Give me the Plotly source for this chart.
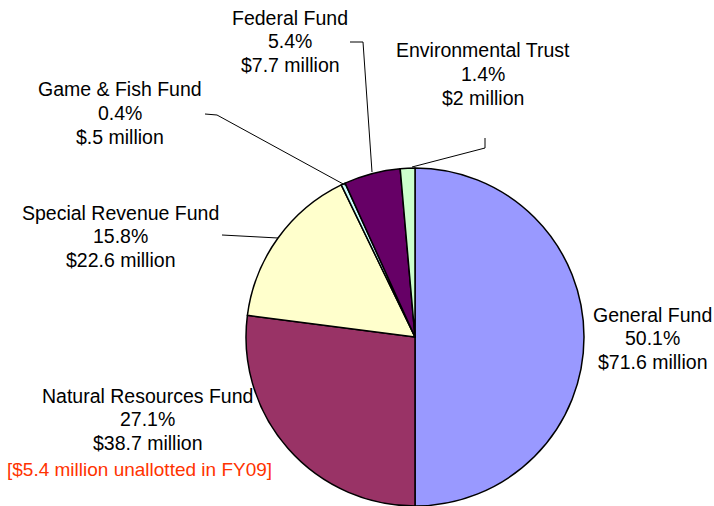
import plotly.graph_objects as go

# fund shares (percent of total) and dollar amounts, clockwise from 12 o'clock
funds = ["General Fund", "Natural Resources Fund", "Special Revenue Fund",
         "Game & Fish Fund", "Federal Fund", "Environmental Trust"]
shares = [50.1, 27.1, 15.8, 0.4, 5.4, 1.4]
amounts = ["$71.6 million", "$38.7 million", "$22.6 million",
           "$.5 million", "$7.7 million", "$2 million"]
colors = ["#9999FF", "#993366", "#FFFFCC", "#CCFFFF", "#660066", "#CCFFCC"]

W, H = 714, 506


def px(x, y):
    """pixel position -> paper coords"""
    return x / W, 1 - y / H


fig = go.Figure(go.Pie(
    labels=funds, values=shares, sort=False, direction="clockwise",
    rotation=0, textinfo="none", hoverinfo="label+percent",
    marker=dict(colors=colors, line=dict(color="black", width=1.5)),
    domain=dict(x=[246 / W, 584 / W], y=[0, 338 / H]),
    showlegend=False,
))

# label centres (pixels, middle line) for each fund
label_pos = {
    "General Fund": (652, 338),
    "Natural Resources Fund": (147, 419),
    "Special Revenue Fund": (120, 236),
    "Game & Fish Fund": (120, 113),
    "Federal Fund": (290, 41),
    "Environmental Trust": (483, 74),
}
LINE = 23.5
font = dict(family="Liberation Sans, Arial", size=19.5, color="black")
anns = []
for name, share, amt in zip(funds, shares, amounts):
    cx, cy = label_pos[name]
    for k, txt in enumerate([name, f"{share}%", amt]):
        x, y = px(cx, cy + (k - 1) * LINE)
        anns.append(dict(x=x, y=y, xref="paper", yref="paper", showarrow=False,
                         text=txt, font=font, xanchor="center", yanchor="middle"))
x, y = px(139, 469)
anns.append(dict(x=x, y=y, xref="paper", yref="paper", showarrow=False,
                 text="[$5.4 million unallotted in FY09]",
                 font=dict(family="Liberation Sans, Arial", size=19, color="#FF3300"),
                 xanchor="center", yanchor="middle"))

# leader lines
leaders = [
    [(205, 114), (217, 115), (345, 185)],
    [(222, 235), (278, 238)],
    [(350, 42), (363, 42), (372, 172)],
    [(485, 138), (485, 148), (412, 167)],
]
shapes = []
for pts in leaders:
    path = ""
    for i, p in enumerate(pts):
        xx, yy = px(*p)
        path += ("M" if i == 0 else " L") + f" {xx} {yy}"
    shapes.append(dict(type="path", path=path, xref="paper", yref="paper",
                       line=dict(color="black", width=1)))

fig.update_layout(width=W, height=H, margin=dict(l=0, r=0, t=0, b=0),
                  paper_bgcolor="white", plot_bgcolor="white",
                  annotations=anns, shapes=shapes)
# drop the default page margin so the figure fills the window
fig.write_html("out.html", config={"displayModeBar": False},
               post_script="document.body.style.margin='0';"
                           "document.body.style.overflow='hidden';")
